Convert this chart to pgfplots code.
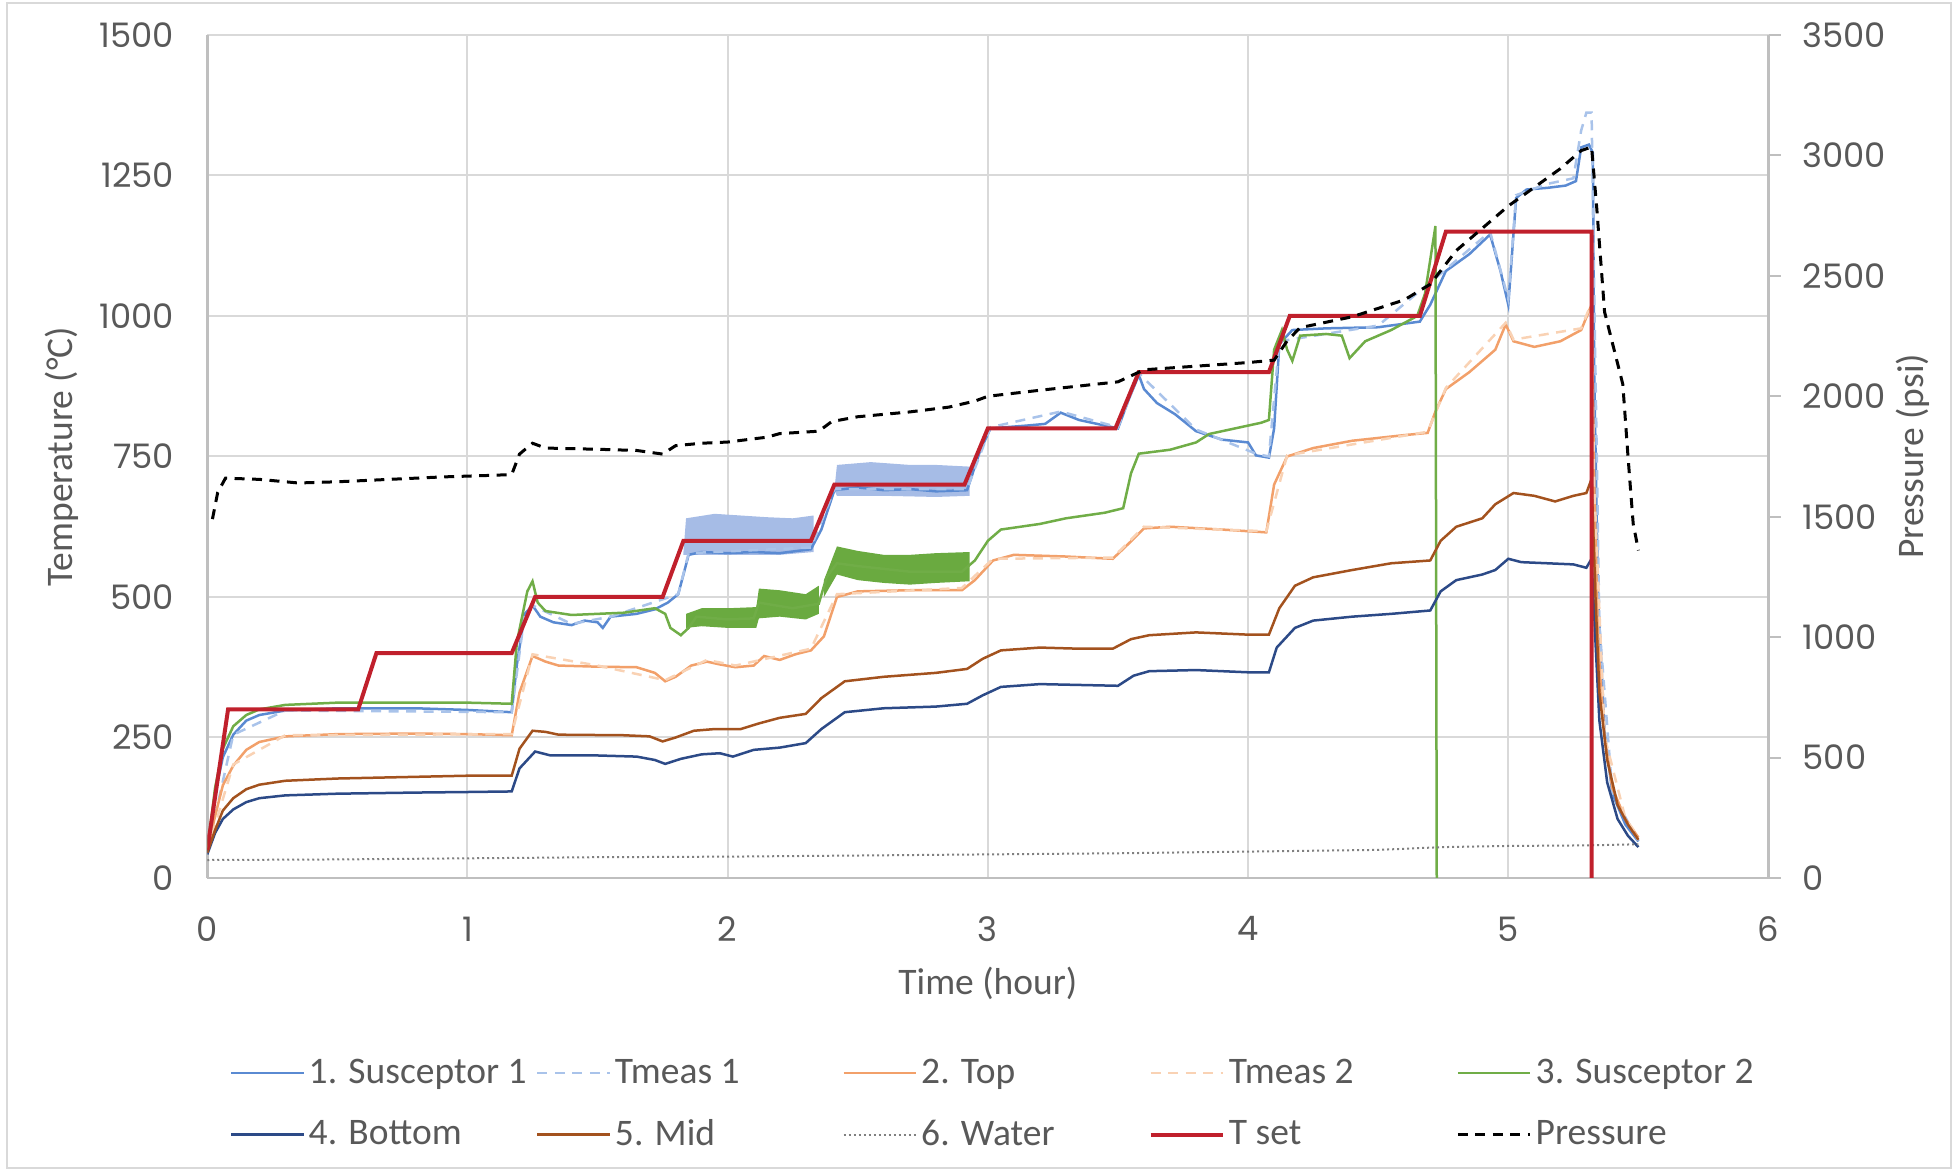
\documentclass[border=0pt]{standalone}
\usepackage{fontspec}
\setmainfont{Carlito}
\newfontfamily\tickfont{Poppins}
\usepackage{pgfplots}
\pgfplotsset{compat=1.18}
\definecolor{susone}{HTML}{5A8AD2}
\definecolor{tmone}{HTML}{A9C3EA}
\definecolor{topc}{HTML}{F2A06A}
\definecolor{tmtwo}{HTML}{F9D2B4}
\definecolor{sustwo}{HTML}{70AD47}
\definecolor{bottomc}{HTML}{2C4A87}
\definecolor{midc}{HTML}{A3521E}
\definecolor{waterc}{HTML}{808080}
\definecolor{tsetc}{HTML}{C0202C}
\definecolor{bandblue}{HTML}{A6BCE6}
\definecolor{bandgreen}{HTML}{6AAA40}
\definecolor{gridc}{HTML}{D9D9D9}
\definecolor{axisc}{HTML}{BFBFBF}
\definecolor{txtc}{HTML}{595959}
\begin{document}
\begin{tikzpicture}
\path[use as bounding box] (-82.9pt,-118.8pt) rectangle (700.3pt,351.2pt);
\draw[gridc, line width=0.6pt] (-80.1pt,-116pt) rectangle (697.5pt,350pt);
\pgfplotsset{
  common/.style={
    scale only axis, width=624.5pt, height=337.2pt,
    xmin=0, xmax=6,
    /pgf/number format/assume math mode=true,
    /pgf/number format/1000 sep={},
    ticklabel style={font=\tickfont\fontsize{13.5}{16}\selectfont, text=txtc},
    label style={font=\fontsize{15}{18}\selectfont, text=txtc},
  }
}
\begin{axis}[common,
  ymin=0, ymax=1500,
  xtick={0,1,2,3,4,5,6}, ytick={0,250,500,750,1000,1250,1500},
  grid=major, major grid style={draw=gridc, line width=0.8pt},
  axis x line*=bottom, axis y line*=left,
  axis line style={draw=axisc, line width=1pt},
  major tick length=0pt,
  xticklabel style={yshift=-12pt},
  yticklabel style={xshift=-9.7pt},
  xlabel={Time (hour)}, ylabel={Temperature (°C)},
  xlabel style={at={(axis description cs:0.5,-0.1246)}, anchor=center},
  ylabel style={at={(axis description cs:-0.0929,0.5)}, anchor=center},
  legend columns=5,
  legend image code/.code={\draw[#1] (0pt,0pt) -- (29pt,0pt);},
  legend style={at={(0.5056,-0.2685)}, anchor=center, draw=none, fill=none,
    font=\fontsize{15}{18}\selectfont, text=txtc,
    nodes={inner sep=1.5pt}, row sep=10pt, inner sep=0pt},
]
% noise bands
\addplot[forget plot, draw=none, fill=bandblue] coordinates {(1.83,580) (1.84,640) (1.95,648) (2.05,645) (2.15,642) (2.25,640) (2.33,645) (2.33,580) (2.2,575) (2.0,575) (1.83,575)} -- cycle;
\addplot[forget plot, draw=none, fill=bandblue] coordinates {(2.41,690) (2.42,735) (2.55,740) (2.7,735) (2.8,735) (2.93,732) (2.93,680) (2.8,678) (2.6,680) (2.42,680)} -- cycle;
\addplot[forget plot, draw=none, fill=bandgreen] coordinates {(1.84,470) (1.9,480) (2.0,480) (2.11,482) (2.12,515) (2.2,512) (2.3,505) (2.35,520) (2.35,470) (2.3,460) (2.2,465) (2.12,462) (2.11,445) (2.0,445) (1.9,448) (1.84,445)} -- cycle;
\addplot[forget plot, draw=none, fill=bandgreen] coordinates {(2.37,530) (2.42,590) (2.5,582) (2.6,575) (2.7,575) (2.8,578) (2.93,580) (2.93,528) (2.8,525) (2.7,522) (2.6,525) (2.5,530) (2.42,540) (2.37,500)} -- cycle;
% 1. Susceptor 1
\addplot[susone, line width=1pt] coordinates {(0,48) (0.03,150) (0.06,215) (0.1,255) (0.15,280) (0.2,290) (0.3,298) (0.5,302) (0.8,302) (1.0,299) (1.17,295) (1.19,380) (1.22,470) (1.25,485) (1.28,465) (1.33,455) (1.4,450) (1.45,458) (1.5,455) (1.52,445) (1.55,465) (1.65,470) (1.72,478) (1.77,490) (1.81,505) (1.85,575) (1.9,580) (2.0,578) (2.1,580) (2.2,578) (2.32,585) (2.36,620) (2.41,690) (2.5,695) (2.6,690) (2.7,692) (2.8,688) (2.92,690) (2.97,760) (3.01,800) (3.15,805) (3.22,808) (3.28,828) (3.35,815) (3.45,805) (3.5,800) (3.54,850) (3.58,895) (3.6,870) (3.65,845) (3.72,825) (3.8,795) (3.9,780) (4.0,775) (4.03,752) (4.08,748) (4.1,800) (4.12,950) (4.17,975) (4.3,978) (4.5,980) (4.66,990) (4.7,1020) (4.76,1080) (4.85,1110) (4.93,1145) (4.97,1080) (5.0,1020) (5.03,1210) (5.07,1225) (5.15,1228) (5.22,1232) (5.26,1240) (5.28,1300) (5.31,1305) (5.325,1290) (5.33,900) (5.345,500) (5.37,260) (5.4,150) (5.45,95) (5.5,65)};
\addlegendentry{\makebox[89.5pt][l]{1. Susceptor 1}}
% Tmeas 1
\addplot[tmone, line width=1pt, dash pattern=on 4pt off 3pt] coordinates {(0,48) (0.1,255) (0.3,298) (1.17,295) (1.22,470) (1.25,485) (1.4,452) (1.55,465) (1.81,505) (1.85,578) (2.32,588) (2.41,692) (2.92,692) (3.01,802) (3.28,830) (3.5,802) (3.58,898) (3.8,798) (4.03,755) (4.08,750) (4.12,955) (4.5,983) (4.76,1083) (4.93,1150) (5.0,1030) (5.03,1215) (5.15,1235) (5.25,1245) (5.28,1330) (5.3,1362) (5.32,1362) (5.335,900) (5.35,450) (5.4,150) (5.5,66)};
\addlegendentry{\makebox[89.5pt][l]{Tmeas 1}}
% 2. Top
\addplot[topc, line width=1pt] coordinates {(0,48) (0.03,110) (0.06,165) (0.1,200) (0.15,228) (0.2,242) (0.3,252) (0.5,256) (0.8,257) (1.0,256) (1.17,254) (1.2,330) (1.25,395) (1.3,385) (1.35,378) (1.5,376) (1.65,375) (1.72,365) (1.76,350) (1.8,358) (1.86,378) (1.92,385) (1.97,380) (2.03,375) (2.1,378) (2.14,395) (2.2,388) (2.26,398) (2.32,405) (2.37,430) (2.42,500) (2.5,510) (2.7,512) (2.9,512) (2.95,530) (3.02,565) (3.1,575) (3.3,572) (3.48,568) (3.53,590) (3.6,622) (3.7,625) (3.9,620) (4.07,615) (4.1,700) (4.15,750) (4.25,765) (4.4,778) (4.6,788) (4.69,792) (4.72,830) (4.76,870) (4.85,900) (4.95,940) (4.99,985) (5.02,955) (5.1,945) (5.2,955) (5.28,975) (5.32,1020) (5.33,700) (5.345,420) (5.37,250) (5.4,160) (5.45,105) (5.5,72)};
\addlegendentry{\makebox[89.5pt][l]{2. Top}}
% Tmeas 2
\addplot[tmtwo, line width=1pt, dash pattern=on 4pt off 3pt] coordinates {(0,48) (0.1,202) (0.3,254) (1.17,256) (1.25,398) (1.5,378) (1.76,352) (1.92,388) (2.03,378) (2.32,408) (2.42,505) (2.9,516) (3.02,568) (3.48,570) (3.6,625) (4.07,617) (4.15,752) (4.69,794) (4.76,872) (4.99,988) (5.02,958) (5.28,978) (5.32,1024) (5.33,700) (5.37,252) (5.45,106) (5.5,73)};
\addlegendentry{\makebox[89.5pt][l]{Tmeas 2}}
% 3. Susceptor 2
\addplot[sustwo, line width=1pt] coordinates {(0,48) (0.03,160) (0.06,230) (0.1,270) (0.15,290) (0.2,300) (0.3,308) (0.5,312) (0.8,312) (1.0,312) (1.17,310) (1.19,420) (1.23,510) (1.25,528) (1.27,490) (1.3,475) (1.4,468) (1.5,470) (1.6,472) (1.72,480) (1.76,470) (1.78,445) (1.82,432) (1.85,445) (1.88,465) (2.0,460) (2.1,462) (2.12,490) (2.25,480) (2.35,488) (2.38,535) (2.42,560) (2.5,555) (2.7,545) (2.9,545) (2.95,565) (3.0,600) (3.05,620) (3.2,630) (3.3,640) (3.45,650) (3.52,658) (3.55,720) (3.58,755) (3.7,762) (3.8,775) (3.85,790) (3.95,800) (4.05,810) (4.08,815) (4.1,940) (4.13,975) (4.15,940) (4.17,920) (4.2,965) (4.3,968) (4.36,965) (4.39,925) (4.45,955) (4.55,975) (4.65,1000) (4.68,1040) (4.72,1160) (4.725,0)};
\addlegendentry{\makebox[89.5pt][l]{3. Susceptor 2}}
% 4. Bottom
\addplot[bottomc, line width=1pt] coordinates {(0,42) (0.03,80) (0.06,105) (0.1,122) (0.15,135) (0.2,142) (0.3,147) (0.5,150) (0.8,152) (1.0,153) (1.17,154) (1.2,195) (1.26,225) (1.32,218) (1.5,218) (1.65,216) (1.72,210) (1.76,203) (1.82,212) (1.9,220) (1.97,222) (2.02,216) (2.1,228) (2.2,232) (2.3,240) (2.36,265) (2.45,295) (2.6,302) (2.8,305) (2.92,310) (2.98,325) (3.05,340) (3.2,345) (3.4,343) (3.5,342) (3.56,360) (3.62,368) (3.8,370) (4.0,366) (4.08,366) (4.11,410) (4.18,445) (4.25,458) (4.4,465) (4.55,470) (4.7,476) (4.74,510) (4.8,530) (4.9,540) (4.95,548) (5.0,568) (5.05,562) (5.15,560) (5.25,558) (5.3,552) (5.32,568) (5.335,420) (5.35,280) (5.38,170) (5.42,105) (5.46,75) (5.5,55)};
\addlegendentry{\makebox[89.5pt][l]{4. Bottom}}
% 5. Mid
\addplot[midc, line width=1pt] coordinates {(0,45) (0.03,85) (0.06,120) (0.1,142) (0.15,158) (0.2,166) (0.3,173) (0.5,177) (0.8,180) (1.0,182) (1.17,182) (1.2,230) (1.25,262) (1.3,260) (1.35,255) (1.6,254) (1.7,252) (1.75,243) (1.8,250) (1.87,262) (1.95,265) (2.05,265) (2.12,275) (2.2,285) (2.3,292) (2.36,320) (2.45,350) (2.6,358) (2.8,365) (2.92,372) (2.98,390) (3.05,405) (3.2,410) (3.35,408) (3.48,408) (3.55,425) (3.62,432) (3.8,437) (4.0,433) (4.08,433) (4.12,480) (4.18,520) (4.25,535) (4.4,548) (4.55,560) (4.7,565) (4.74,600) (4.8,625) (4.9,640) (4.95,665) (5.02,685) (5.1,680) (5.18,670) (5.25,680) (5.3,685) (5.32,710) (5.335,500) (5.35,330) (5.38,210) (5.42,130) (5.46,95) (5.5,68)};
\addlegendentry{\makebox[89.5pt][l]{5. Mid}}
% 6. Water
\addplot[waterc, line width=0.8pt, dash pattern=on 0.8pt off 1.2pt] coordinates {(0,32) (0.5,33) (1.0,35) (1.5,37) (2.0,38) (2.5,40) (3.0,42) (3.5,44) (4.0,47) (4.5,50) (4.75,55) (5.0,57) (5.3,58) (5.5,60)};
\addlegendentry{\makebox[89.5pt][l]{6. Water}}
% T set
\addplot[tsetc, line width=1.6pt] coordinates {(0,50) (0.08,300) (0.58,300) (0.65,400) (1.17,400) (1.26,500) (1.75,500) (1.83,600) (2.32,600) (2.41,700) (2.91,700) (3.0,800) (3.49,800) (3.58,900) (4.08,900) (4.16,1000) (4.66,1000) (4.76,1150) (5.32,1150) (5.32,0)};
\addlegendentry{\makebox[89.5pt][l]{T set}}
\addlegendimage{black, line width=1.2pt, dash pattern=on 4pt off 3pt}
\addlegendentry{\makebox[89.5pt][l]{Pressure}}
\end{axis}
\begin{axis}[common,
  ymin=0, ymax=3500,
  axis x line=none, axis y line*=right,
  ytick={0,500,1000,1500,2000,2500,3000,3500},
  axis line style={draw=axisc, line width=1pt},
  tick align=outside, major tick length=4.8pt,
  tick style={draw=axisc, line width=0.8pt},
  yticklabel style={xshift=5.3pt},
  ylabel={Pressure (psi)},
  ylabel style={at={(axis description cs:1.0925,0.5)}, anchor=center},
]
\addplot[black, line width=1.2pt, dash pattern=on 4pt off 3pt] coordinates {(0.02,1490) (0.04,1600) (0.07,1660) (0.2,1655) (0.35,1640) (0.5,1645) (0.7,1655) (0.9,1665) (1.1,1672) (1.17,1675) (1.2,1760) (1.25,1805) (1.3,1785) (1.5,1780) (1.65,1775) (1.75,1760) (1.8,1795) (1.9,1805) (2.0,1810) (2.15,1830) (2.2,1845) (2.35,1855) (2.4,1895) (2.5,1915) (2.7,1935) (2.85,1955) (2.95,1980) (3.0,2000) (3.2,2025) (3.5,2060) (3.6,2110) (3.8,2125) (4.0,2140) (4.1,2150) (4.15,2230) (4.2,2285) (4.4,2330) (4.6,2400) (4.7,2465) (4.8,2605) (5.0,2790) (5.2,2945) (5.28,3020) (5.32,3035) (5.34,2780) (5.37,2350) (5.44,2050) (5.46,1750) (5.48,1470) (5.5,1360)};
\end{axis}
\end{tikzpicture}
\end{document}
